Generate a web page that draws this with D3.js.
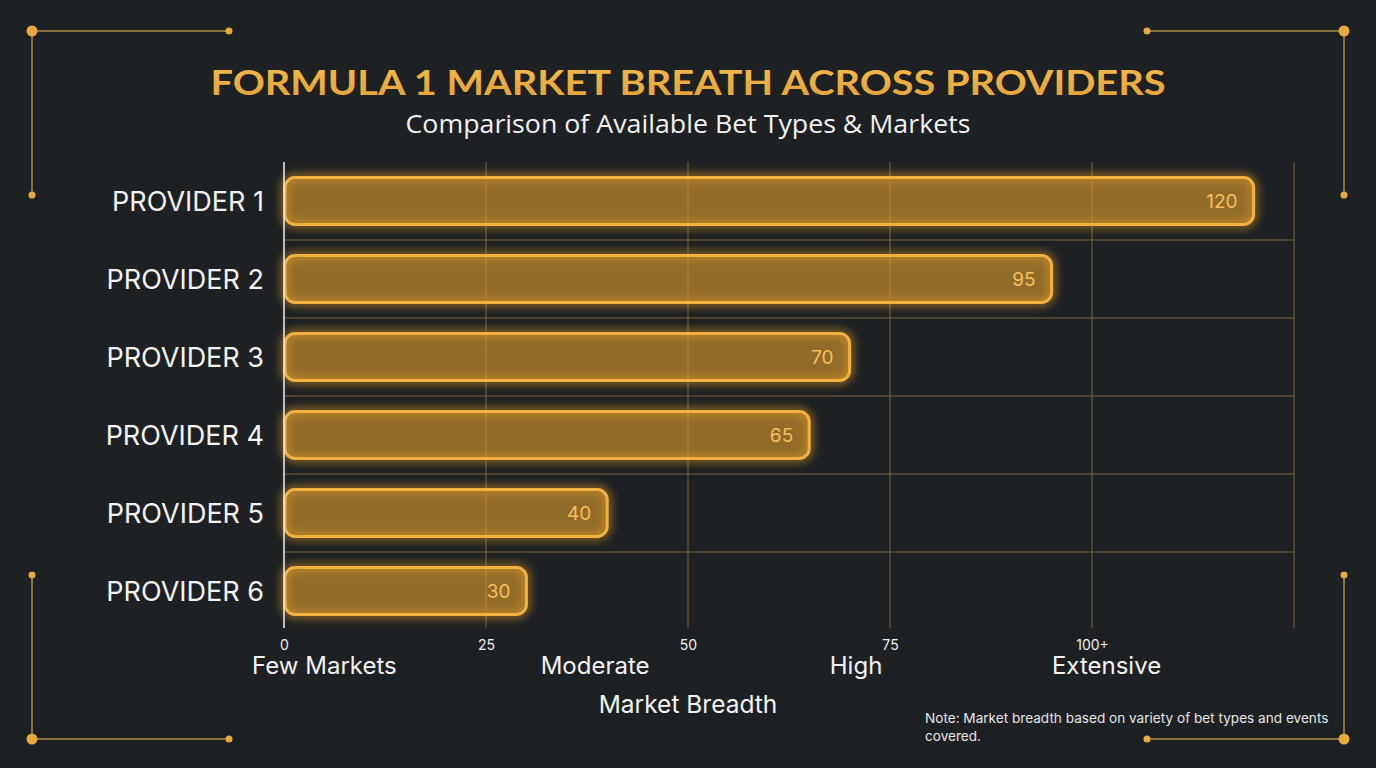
<!DOCTYPE html>
<html lang="en">
<head>
    <meta charset="UTF-8">
    <title>Formula 1 Market Breath Across Providers</title>
    <script src="https://cdnjs.cloudflare.com/ajax/libs/d3/7.8.5/d3.min.js"></script>
    <style>
        html, body { margin: 0; padding: 0; background: #1e2124; }
        svg { display: block; }
    </style>
</head>
<body>
    <svg id="chart" width="1376" height="768"></svg>
    <script>
        // data
        const providers = ["PROVIDER 1", "PROVIDER 2", "PROVIDER 3", "PROVIDER 4", "PROVIDER 5", "PROVIDER 6"];
        const markets = [120, 95, 70, 65, 40, 30];
        const tickValues = [0, 25, 50, 75, 100];
        const tickLabels = ["0", "25", "50", "75", "100+"];
        const bandLabels = ["Few Markets", "Moderate", "High", "Extensive"];
        const bandPositions = [5, 38.5, 70.8, 101.8];

        const W = 1376, H = 768;
        const gold = "#f2b241";
        const dim = "#7a6338";
        const font = "Inter, 'Noto Sans', sans-serif";

        const svg = d3.select("#chart");
        const defs = svg.append("defs");

        const glow = defs.append("filter").attr("id", "glow")
            .attr("x", "-10%").attr("y", "-60%").attr("width", "120%").attr("height", "220%");
        glow.append("feGaussianBlur").attr("in", "SourceGraphic").attr("stdDeviation", 5);

        const tg = defs.append("linearGradient").attr("id", "titleGrad")
            .attr("x1", 0).attr("y1", 0).attr("x2", 0).attr("y2", 1);
        tg.append("stop").attr("offset", "0%").attr("stop-color", "#f6bd4f");
        tg.append("stop").attr("offset", "100%").attr("stop-color", "#e2a035");

        // corner ornaments
        const corners = [
            { x: 32, y: 31, dx: 1, dy: 1 },
            { x: 1344, y: 31, dx: -1, dy: 1 },
            { x: 32, y: 739, dx: 1, dy: -1 },
            { x: 1344, y: 739, dx: -1, dy: -1 }
        ];
        const orn = svg.append("g");
        corners.forEach(c => {
            orn.append("line").attr("x1", c.x).attr("y1", c.y).attr("x2", c.x + c.dx * 197).attr("y2", c.y)
                .attr("stroke", "#86703f").attr("stroke-width", 2);
            orn.append("line").attr("x1", c.x).attr("y1", c.y).attr("x2", c.x).attr("y2", c.y + c.dy * 164)
                .attr("stroke", "#86703f").attr("stroke-width", 2);
            orn.append("circle").attr("cx", c.x).attr("cy", c.y).attr("r", 5.5).attr("fill", "#e8a93f");
            orn.append("circle").attr("cx", c.x + c.dx * 197).attr("cy", c.y).attr("r", 3.5).attr("fill", "#e8a93f");
            orn.append("circle").attr("cx", c.x).attr("cy", c.y + c.dy * 164).attr("r", 3.5).attr("fill", "#e8a93f");
        });

        // titles
        svg.append("text").attr("x", W / 2).attr("y", 95)
            .attr("text-anchor", "middle")
            .attr("font-family", "Lato, 'Noto Sans', sans-serif")
            .attr("font-weight", 700).attr("font-size", 35)
            .attr("textLength", 955).attr("lengthAdjust", "spacingAndGlyphs")
            .attr("fill", "url(#titleGrad)")
            .text("FORMULA 1 MARKET BREATH ACROSS PROVIDERS");
        svg.append("text").attr("x", W / 2).attr("y", 133)
            .attr("text-anchor", "middle")
            .attr("font-family", "'Open Sans', sans-serif")
            .attr("font-size", 25).attr("fill", "#f2f2f2")
            .attr("textLength", 565).attr("lengthAdjust", "spacingAndGlyphs")
            .text("Comparison of Available Bet Types & Markets");

        // scales
        const x = d3.scaleLinear().domain([0, 125]).range([284, 1294]);
        const y = d3.scaleBand().domain(providers).range([162, 630]).paddingInner(0.4).paddingOuter(0.2);
        const rowEdges = providers.slice(1).map(p => y(p) - y.step() * y.paddingInner() / 2);

        // grid
        const grid = svg.append("g");
        grid.selectAll(".v").data(tickValues.slice(1).concat([125])).join("line")
            .attr("x1", d => x(d)).attr("x2", d => x(d))
            .attr("y1", 162).attr("y2", 628)
            .attr("stroke", dim).attr("stroke-width", 1);
        grid.selectAll(".h").data(rowEdges).join("line")
            .attr("x1", x(0)).attr("x2", x(125))
            .attr("y1", d => d).attr("y2", d => d)
            .attr("stroke", dim).attr("stroke-width", 1);

        // bars: blurred halo behind, then the bar itself
        const bars = svg.append("g");
        bars.selectAll("rect.halo").data(markets).join("rect")
            .attr("class", "halo")
            .attr("x", x(0) + 1)
            .attr("y", (d, i) => y(providers[i]))
            .attr("width", d => x(d) - x(0) - 1)
            .attr("height", y.bandwidth())
            .attr("rx", 10)
            .attr("fill", "none")
            .attr("stroke", "#f5a623").attr("stroke-width", 6).attr("stroke-opacity", 0.7)
            .attr("filter", "url(#glow)");
        bars.selectAll("rect.bar").data(markets).join("rect")
            .attr("class", "bar")
            .attr("x", x(0) + 1)
            .attr("y", (d, i) => y(providers[i]))
            .attr("width", d => x(d) - x(0) - 1)
            .attr("height", y.bandwidth())
            .attr("rx", 10)
            .attr("fill", "#d99a2b").attr("fill-opacity", 0.62)
            .attr("stroke", gold).attr("stroke-width", 3);

        bars.selectAll("text").data(markets).join("text")
            .attr("x", d => x(d) - 16)
            .attr("y", (d, i) => y(providers[i]) + y.bandwidth() / 2)
            .attr("dy", "0.36em")
            .attr("text-anchor", "end")
            .attr("font-family", font).attr("font-size", 19)
            .attr("fill", "#f6bf5c")
            .text(d => d);

        // y axis line and labels
        svg.append("line").attr("x1", x(0)).attr("x2", x(0)).attr("y1", 162).attr("y2", 628)
            .attr("stroke", "#f0f0f0").attr("stroke-width", 1.5);
        svg.append("g").selectAll("text").data(providers).join("text")
            .attr("x", 264)
            .attr("y", d => y(d) + y.bandwidth() / 2)
            .attr("dy", "0.36em")
            .attr("text-anchor", "end")
            .attr("font-family", font).attr("font-size", 27)
            .attr("fill", "#f2f2f2")
            .text(d => d);

        // x axis
        const xAxis = svg.append("g").attr("transform", "translate(0,628)")
            .call(d3.axisBottom(x).tickValues(tickValues).tickSize(0).tickPadding(12)
                .tickFormat((d, i) => tickLabels[i]));
        xAxis.select(".domain").remove();
        xAxis.selectAll("text").attr("font-family", font).attr("font-size", 14).attr("fill", "#eeeeee");

        svg.append("g").selectAll("text").data(bandLabels).join("text")
            .attr("x", (d, i) => x(bandPositions[i]))
            .attr("y", 674)
            .attr("text-anchor", "middle")
            .attr("font-family", font).attr("font-size", 24)
            .attr("fill", "#f2f2f2")
            .text(d => d);

        svg.append("text").attr("x", x(50)).attr("y", 713)
            .attr("text-anchor", "middle")
            .attr("font-family", font).attr("font-size", 24.5)
            .attr("fill", "#f2f2f2")
            .text("Market Breadth");

        // note
        const note = svg.append("text").attr("font-family", font).attr("font-size", 13.6).attr("fill", "#e6e6e6");
        note.append("tspan").attr("x", 925).attr("y", 723).text("Note: Market breadth based on variety of bet types and events");
        note.append("tspan").attr("x", 925).attr("y", 741).text("covered.");
    </script>
</body>
</html>
